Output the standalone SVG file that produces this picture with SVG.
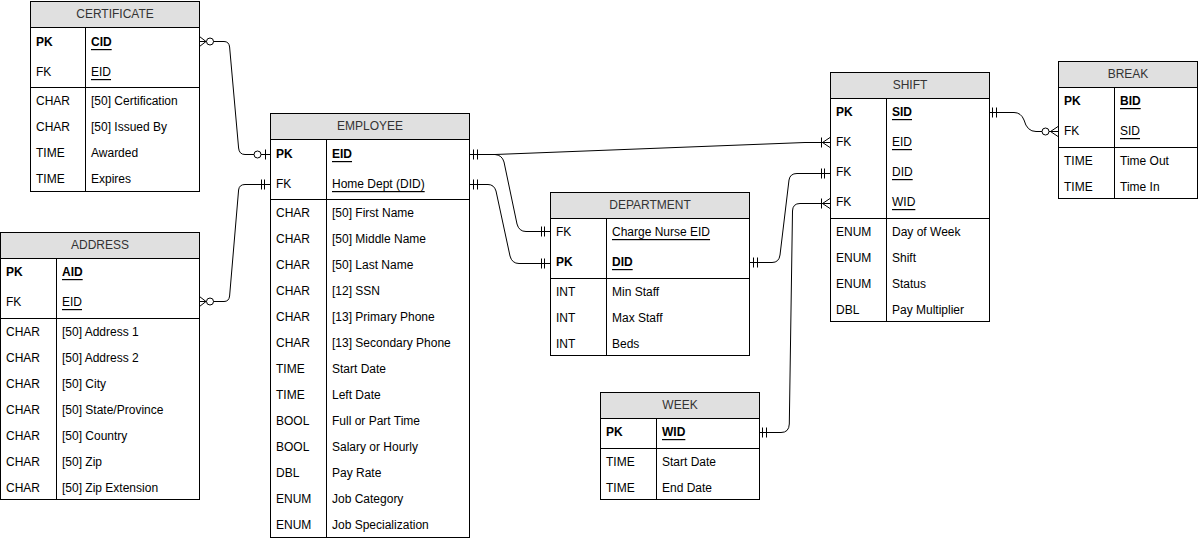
<svg xmlns="http://www.w3.org/2000/svg" width="1198" height="539" viewBox="0 0 1198 539">
<style>
.box{fill:#fff;stroke:#000;stroke-width:1}
.hd{fill:#e0e0e0;stroke:#000;stroke-width:1}
.ln{stroke:#000;stroke-width:1;fill:none}
text{font-family:"Liberation Sans",Arial,sans-serif;font-size:12px;fill:#000;dominant-baseline:central}
.ht{fill:#333;text-anchor:middle}
.b{font-weight:bold}
.u{text-decoration:underline}
.c{fill:none;stroke:#000;stroke-width:1}
.o{fill:#fff;stroke:#000;stroke-width:1}
</style>
<rect width="1198" height="539" fill="#fff"/>

<g id="certificate">
<rect class="box" x="30.5" y="1.5" width="169" height="190"/>
<rect class="hd" x="30.5" y="1.5" width="169" height="26"/>
<path class="ln" d="M30.5 87.5H199.5M85.5 27.5V191.5"/>
<text class="ht" x="115" y="14">CERTIFICATE</text>
<text class="b" x="36" y="42">PK</text><text class="b u" x="91" y="42">CID</text>
<text x="36" y="72">FK</text><text class="u" x="91" y="72">EID</text>
<text x="36" y="101">CHAR</text><text x="91" y="101">[50] Certification</text>
<text x="36" y="127">CHAR</text><text x="91" y="127">[50] Issued By</text>
<text x="36" y="153">TIME</text><text x="91" y="153">Awarded</text>
<text x="36" y="179">TIME</text><text x="91" y="179">Expires</text>
</g>

<g id="employee">
<rect class="box" x="270.5" y="113.5" width="199" height="424"/>
<rect class="hd" x="270.5" y="113.5" width="199" height="26"/>
<path class="ln" d="M270.5 199.5H469.5M326.5 139.5V537.5"/>
<text class="ht" x="370" y="126">EMPLOYEE</text>
<text class="b" x="276" y="154">PK</text><text class="b u" x="332" y="154">EID</text>
<text x="276" y="184">FK</text><text class="u" x="332" y="184">Home Dept (DID)</text>
<text x="276" y="213">CHAR</text><text x="332" y="213">[50] First Name</text>
<text x="276" y="239">CHAR</text><text x="332" y="239">[50] Middle Name</text>
<text x="276" y="265">CHAR</text><text x="332" y="265">[50] Last Name</text>
<text x="276" y="291">CHAR</text><text x="332" y="291">[12] SSN</text>
<text x="276" y="317">CHAR</text><text x="332" y="317">[13] Primary Phone</text>
<text x="276" y="343">CHAR</text><text x="332" y="343">[13] Secondary Phone</text>
<text x="276" y="369">TIME</text><text x="332" y="369">Start Date</text>
<text x="276" y="395">TIME</text><text x="332" y="395">Left Date</text>
<text x="276" y="421">BOOL</text><text x="332" y="421">Full or Part Time</text>
<text x="276" y="447">BOOL</text><text x="332" y="447">Salary or Hourly</text>
<text x="276" y="473">DBL</text><text x="332" y="473">Pay Rate</text>
<text x="276" y="499">ENUM</text><text x="332" y="499">Job Category</text>
<text x="276" y="525">ENUM</text><text x="332" y="525">Job Specialization</text>
</g>

<g id="address">
<rect class="box" x="0.5" y="232.5" width="199" height="267"/>
<rect class="hd" x="0.5" y="232.5" width="199" height="26"/>
<path class="ln" d="M0.5 318.5H199.5M56.5 258.5V499.5"/>
<text class="ht" x="100" y="245">ADDRESS</text>
<text class="b" x="6" y="272">PK</text><text class="b u" x="62" y="272">AID</text>
<text x="6" y="302">FK</text><text class="u" x="62" y="302">EID</text>
<text x="6" y="332">CHAR</text><text x="62" y="332">[50] Address 1</text>
<text x="6" y="358">CHAR</text><text x="62" y="358">[50] Address 2</text>
<text x="6" y="384">CHAR</text><text x="62" y="384">[50] City</text>
<text x="6" y="410">CHAR</text><text x="62" y="410">[50] State/Province</text>
<text x="6" y="436">CHAR</text><text x="62" y="436">[50] Country</text>
<text x="6" y="462">CHAR</text><text x="62" y="462">[50] Zip</text>
<text x="6" y="488">CHAR</text><text x="62" y="488">[50] Zip Extension</text>
</g>

<g id="department">
<rect class="box" x="550.5" y="192.5" width="199" height="163"/>
<rect class="hd" x="550.5" y="192.5" width="199" height="26"/>
<path class="ln" d="M550.5 278.5H749.5M606.5 218.5V355.5"/>
<text class="ht" x="650" y="205">DEPARTMENT</text>
<text x="556" y="232">FK</text><text class="u" x="612" y="232">Charge Nurse EID</text>
<text class="b" x="556" y="262">PK</text><text class="b u" x="612" y="262">DID</text>
<text x="556" y="292">INT</text><text x="612" y="292">Min Staff</text>
<text x="556" y="318">INT</text><text x="612" y="318">Max Staff</text>
<text x="556" y="344">INT</text><text x="612" y="344">Beds</text>
</g>

<g id="shift">
<rect class="box" x="830.5" y="72.5" width="159" height="249"/>
<rect class="hd" x="830.5" y="72.5" width="159" height="26"/>
<path class="ln" d="M830.5 218.5H989.5M886.5 98.5V321.5"/>
<text class="ht" x="910" y="85">SHIFT</text>
<text class="b" x="836" y="112">PK</text><text class="b u" x="892" y="112">SID</text>
<text x="836" y="142">FK</text><text class="u" x="892" y="142">EID</text>
<text x="836" y="172">FK</text><text class="u" x="892" y="172">DID</text>
<text x="836" y="202">FK</text><text class="u" x="892" y="202">WID</text>
<text x="836" y="232">ENUM</text><text x="892" y="232">Day of Week</text>
<text x="836" y="258">ENUM</text><text x="892" y="258">Shift</text>
<text x="836" y="284">ENUM</text><text x="892" y="284">Status</text>
<text x="836" y="310">DBL</text><text x="892" y="310">Pay Multiplier</text>
</g>

<g id="break">
<rect class="box" x="1058.5" y="61.5" width="139" height="137"/>
<rect class="hd" x="1058.5" y="61.5" width="139" height="26"/>
<path class="ln" d="M1058.5 147.5H1197.5M1114.5 87.5V198.5"/>
<text class="ht" x="1128" y="74">BREAK</text>
<text class="b" x="1064" y="101">PK</text><text class="b u" x="1120" y="101">BID</text>
<text x="1064" y="131">FK</text><text class="u" x="1120" y="131">SID</text>
<text x="1064" y="161">TIME</text><text x="1120" y="161">Time Out</text>
<text x="1064" y="187">TIME</text><text x="1120" y="187">Time In</text>
</g>

<g id="week">
<rect class="box" x="600.5" y="392.5" width="159" height="107"/>
<rect class="hd" x="600.5" y="392.5" width="159" height="26"/>
<path class="ln" d="M600.5 448.5H759.5M656.5 418.5V499.5"/>
<text class="ht" x="680" y="405">WEEK</text>
<text class="b" x="606" y="432">PK</text><text class="b u" x="662" y="432">WID</text>
<text x="606" y="462">TIME</text><text x="662" y="462">Start Date</text>
<text x="606" y="488">TIME</text><text x="662" y="488">End Date</text>
</g>

<g id="connectors">
<!-- certificate CID -> employee EID -->
<path class="c" d="M199.5 41.5H224Q229 41.5 229.6 47L238.6 148Q239.2 154.5 245 154.5H270"/>
<path class="c" d="M199.5 36.5L206 41.5L199.5 46.5"/>
<circle class="o" cx="210" cy="41.5" r="3.5"/>
<circle class="o" cx="257.5" cy="154.5" r="3.5"/>
<path class="c" d="M265.5 149.5V159.5"/>
<!-- address EID -> employee FK -->
<path class="c" d="M199.5 301.5H224Q229 301.5 229.6 296L238.6 190Q239.2 184.5 245 184.5H270"/>
<path class="c" d="M199.5 296.5L206 301.5L199.5 306.5"/>
<circle class="o" cx="210" cy="301.5" r="3.5"/>
<path class="c" d="M261.5 179.5V189.5M264.5 179.5V189.5"/>
<!-- employee EID -> shift EID -->
<path class="c" d="M469.5 154.5H495L805 142.5H830"/>
<path class="c" d="M473.5 149.5V159.5M477.5 149.5V159.5"/>
<path class="c" d="M830 137.5L822.5 142.5L830 147.5M821.5 137.5V147.5"/>
<!-- employee EID -> department FK -->
<path class="c" d="M495 154.5Q502 155 504 162L517 224Q519 231.5 526 231.5H550"/>
<path class="c" d="M541.5 226.5V236.5M544.5 226.5V236.5"/>
<!-- employee FK -> department PK -->
<path class="c" d="M469.5 184.5H488Q494 184.5 496 191L510 256Q512 263.5 519 263.5H550"/>
<path class="c" d="M473.5 179.5V189.5M477.5 179.5V189.5"/>
<path class="c" d="M541.5 258.5V268.5M544.5 258.5V268.5"/>
<!-- department DID -> shift DID -->
<path class="c" d="M749.5 262.5H772Q779 262.5 780 255L789 180Q790 173.5 797 173.5H830"/>
<path class="c" d="M753.5 257.5V267.5M757.5 257.5V267.5"/>
<path class="c" d="M821.5 168.5V178.5M824.5 168.5V178.5"/>
<!-- week WID -> shift WID -->
<path class="c" d="M759.5 432.5H781Q789 432.5 789.3 424L792.5 211Q792.7 203.5 800 203.5H830"/>
<path class="c" d="M762.5 427.5V437.5M766.5 427.5V437.5"/>
<path class="c" d="M830 198.5L822.5 203.5L830 208.5M821.5 198.5V208.5"/>
<!-- shift SID -> break SID -->
<path class="c" d="M989.5 112.5H1014Q1021 112.5 1024 120Q1027 131.5 1036 131.5H1058"/>
<path class="c" d="M992.5 107.5V117.5M996.5 107.5V117.5"/>
<circle class="o" cx="1045.5" cy="131.5" r="3.5"/>
<path class="c" d="M1058 126.5L1050.5 131.5L1058 136.5"/>
</g>
</svg>
